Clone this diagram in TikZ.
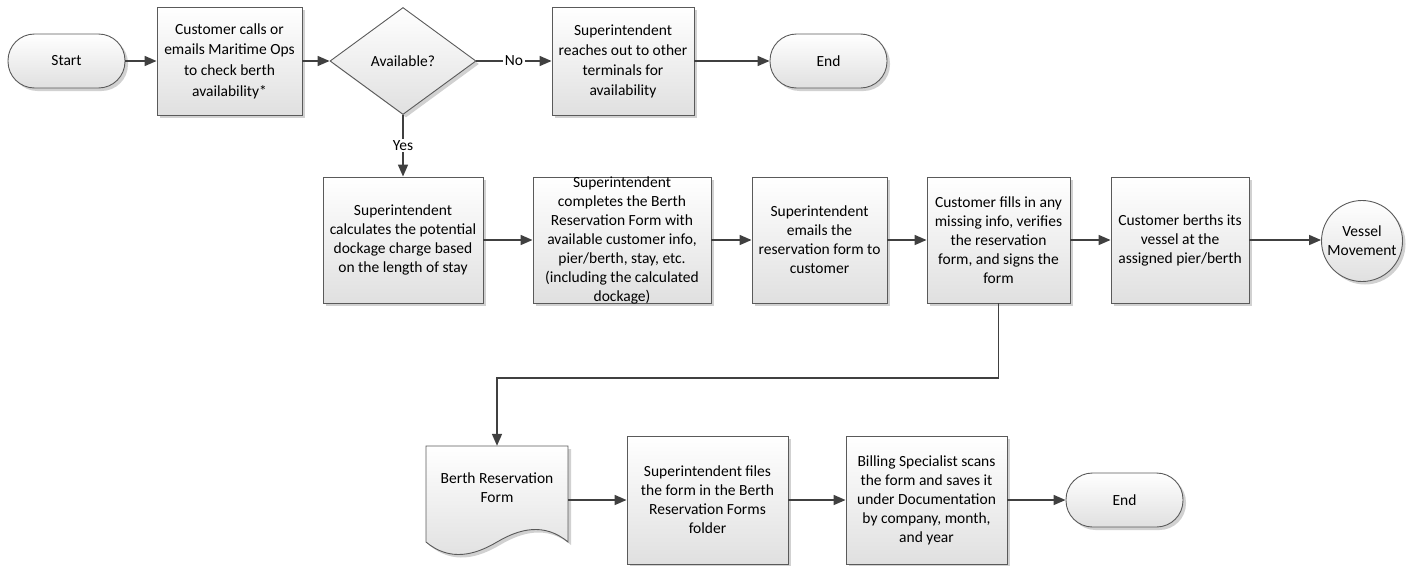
\documentclass[tikz,border=0pt]{standalone}
\usepackage{fontspec}
\setmainfont{Carlito}
\usetikzlibrary{arrows.meta,shapes.geometric,shadows}
\definecolor{edge}{HTML}{5A5A5A}
\definecolor{arr}{HTML}{404040}
\definecolor{shadebot}{HTML}{E0E0E0}
\tikzset{
  txt/.style={font=\fontsize{15.5}{19}\selectfont, align=center, inner sep=0pt},
  base/.style={txt, draw=edge, line width=0.9pt, top color=white, bottom color=shadebot,
    drop shadow={shadow xshift=3pt, shadow yshift=-3pt, fill=black!18, opacity=1}},
  proc/.style={base, rectangle, minimum height=126pt},
  term/.style={base, rectangle, rounded corners=26.5pt, minimum width=117pt, minimum height=54pt},
  flow/.style={draw=arr, line width=1.6pt, -{Triangle[length=12pt,width=10pt]}},
  lbl/.style={txt, fill=white, inner sep=1.5pt}
}
\begin{document}
\begin{tikzpicture}[x=1pt,y=-1pt]
\useasboundingbox (0,0) rectangle (1413,565);
% row 1
\node[term] (start) at (66.5,61) {Start};
\node[proc, minimum width=145pt, minimum height=108pt, font=\fontsize{15.5}{20.7}\selectfont] (b1) at (229.5,61) {Customer calls or\\emails Maritime Ops\\to check berth\\availability*};
\node[base, diamond, aspect=1.34, minimum width=146pt, minimum height=107pt] (dia) at (403,61) {Available?};
\node[proc, minimum width=142pt, minimum height=108pt, font=\fontsize{15.5}{20}\selectfont] (b2) at (623,61) {Superintendent\\reaches out to other\\terminals for\\availability};
\node[term] (end1) at (828.5,61) {End};
% row 2
\node[proc, minimum width=160pt] (b3) at (403,240) {Superintendent\\calculates the potential\\dockage charge based\\on the length of stay};
\node[proc, minimum width=178pt, label={[txt]center:{Superintendent\\completes the Berth\\Reservation Form with\\available customer info,\\pier/berth, stay, etc.\\(including the calculated\\dockage)}}] (b4) at (622,240) {};
\node[proc, minimum width=135pt] (b5) at (819.5,240) {Superintendent\\emails the\\reservation form to\\customer};
\node[proc, minimum width=143pt] (b6) at (998.5,240) {Customer fills in any\\missing info, verifies\\the reservation\\form, and signs the\\form};
\node[proc, minimum width=138pt] (b7) at (1180,240) {Customer berths its\\vessel at the\\assigned pier/berth};
\node[base, circle, minimum size=81pt] (vm) at (1362,241) {Vessel\\Movement};
% row 3
\path[base] (426,446) -- (568,446) -- (568,542) .. controls (544,522) and (519,529) .. (497,542) .. controls (475,555) and (450,562) .. (426,542) -- cycle;
\node[minimum width=142pt, minimum height=108pt, inner sep=0pt] (doc) at (497,500) {};
\node[txt] (doctext) at (497,488) {Berth Reservation\\Form};
\node[proc, minimum width=161pt, minimum height=128pt] (b8) at (707.5,500) {Superintendent files\\the form in the Berth\\Reservation Forms\\folder};
\node[proc, minimum width=161pt, minimum height=128pt] (b9) at (926.5,500) {Billing Specialist scans\\the form and saves it\\under Documentation\\by company, month,\\and year};
\node[term] (end2) at (1124.5,500) {End};
% connectors
\coordinate (k) at (0,378);
\draw[flow] (start) -- (b1);
\draw[flow] (b1) -- (dia);
\draw[flow] (dia) -- node[lbl] {No} (b2);
\draw[flow] (b2) -- (end1);
\draw[flow] (dia) -- node[lbl] {Yes} (b3);
\draw[flow] (b3) -- (b4);
\draw[flow] (b4) -- (b5);
\draw[flow] (b5) -- (b6);
\draw[flow] (b6) -- (b7);
\draw[flow] (b7) -- (vm.west |- b7.east);
\draw[flow] (b6.south) -- (b6.south |- k) -| (doc.north);
\draw[flow] (doc) -- (b8);
\draw[flow] (b8) -- (b9);
\draw[flow] (b9) -- (end2);
\end{tikzpicture}
\end{document}
